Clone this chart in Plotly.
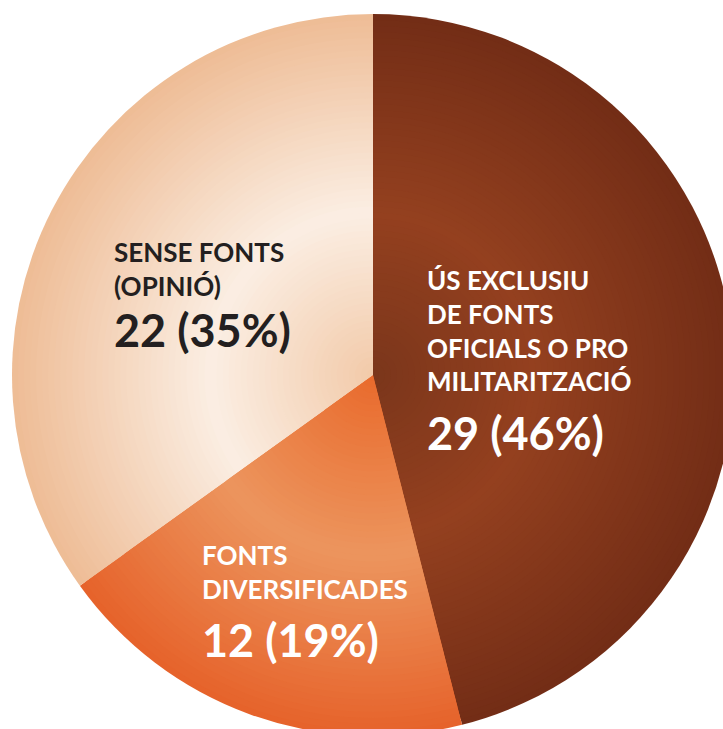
import plotly.graph_objects as go

# ---- data ----
labels = ["ÚS EXCLUSIU<br>DE FONTS<br>OFICIALS O PRO<br>MILITARITZACIÓ",
          "FONTS<br>DIVERSIFICADES",
          "SENSE FONTS<br>(OPINIÓ)"]
values = [29, 12, 22]

# canvas a little larger than the window; the overflow is clipped like the reference
W, H = 740, 740
CX, CY, R = 373, 375, 361  # pixel centre / radius

# radial colour stops per slice (t = r / R)
stops = [
    [(0.0, "#7b361b"), (0.45, "#94401f"), (1.0, "#722d16")],
    [(0.0, "#e96a2c"), (0.5, "#ec955e"), (1.0, "#e6622a")],
    [(0.0, "#f2caa9"), (0.45, "#fbeee3"), (1.0, "#eebc95")],
]

def hex2rgb(h):
    h = h.lstrip("#")
    return [int(h[i:i + 2], 16) for i in (0, 2, 4)]

def colour_at(st, t):
    for (t0, c0), (t1, c1) in zip(st[:-1], st[1:]):
        if t0 <= t <= t1:
            a = (t - t0) / (t1 - t0)
            r0, r1 = hex2rgb(c0), hex2rgb(c1)
            return "rgb(%d,%d,%d)" % tuple(round(r0[i] + (r1[i] - r0[i]) * a) for i in range(3))
    return st[-1][1]

fig = go.Figure()
N = 60
for k in range(N):
    f = 1 - k / N  # radius fraction, largest first
    r = R * f
    dom_x = [(CX - r) / W, (CX + r) / W]
    dom_y = [1 - (CY + r) / H, 1 - (CY - r) / H]
    cols = [colour_at(st, f - 0.5 / N) for st in stops]
    fig.add_trace(go.Pie(
        values=values, sort=False, direction="clockwise", rotation=0,
        marker=dict(colors=cols, line=dict(width=0)),
        textinfo="none", hoverinfo="skip", showlegend=False,
        domain=dict(x=dom_x, y=dom_y),
    ))

total = sum(values)
# (x, label top, number top, colour)
label_pos = [(425, 262, 404, "white"), (200, 537, 611, "white"), (112, 234, 301, "#231f20")]
FONT = "Lato"
for lab, v, (px, py, ny, col) in zip(labels, values, label_pos):
    fig.add_annotation(x=px / W, y=1 - py / H, xref="paper", yref="paper",
                       xanchor="left", yanchor="top", align="left", showarrow=False,
                       text=lab, font=dict(family=FONT, size=26, color=col, weight="bold"))
    fig.add_annotation(x=px / W, y=1 - ny / H, xref="paper", yref="paper",
                       xanchor="left", yanchor="top", align="left", showarrow=False,
                       text="%d (%d%%)" % (v, round(v / total * 100)),
                       font=dict(family=FONT, size=45, color=col, weight="bold"))

fig.update_layout(width=W, height=H, margin=dict(l=0, r=0, t=0, b=0),
                  paper_bgcolor="white", plot_bgcolor="white")
fig.write_html("out.html",
               config={"displayModeBar": False},
               post_script="document.body.style.margin='0';"
                           "document.documentElement.style.overflow='hidden';")
